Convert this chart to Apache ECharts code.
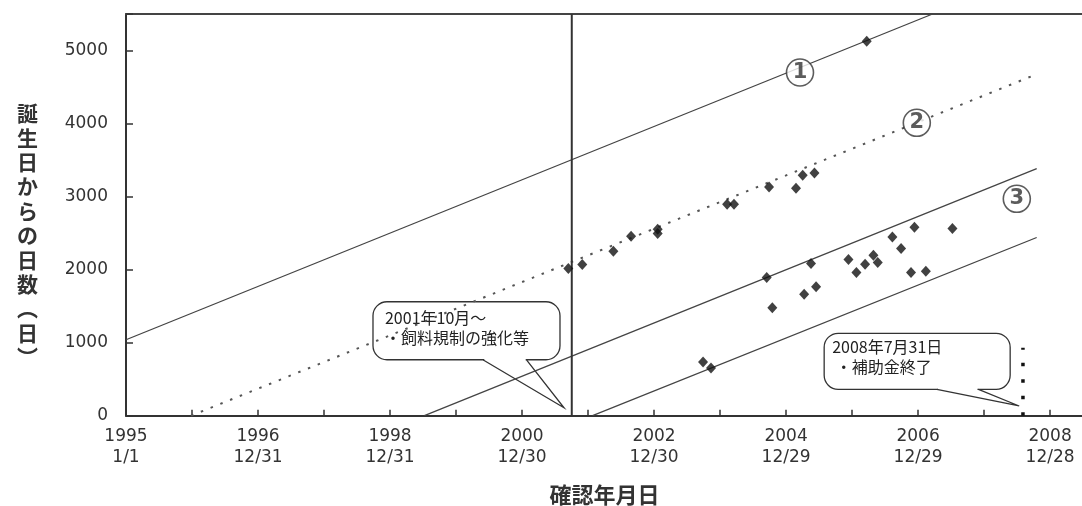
<!DOCTYPE html>
<html>
<head>
<meta charset="utf-8">
<script src="https://cdn.jsdelivr.net/npm/echarts@6/dist/echarts.min.js"></script>
<style>
html,body{margin:0;padding:0;background:#fff;}
#chart{width:1082px;height:506px;}
</style>
</head>
<body>
<div id="chart"></div>
<script>
// x values: days elapsed since 1995/1/1 (confirmation date); y values: days since birth
const xTickLabels = ['1995\n1/1', '1996\n12/31', '1998\n12/31', '2000\n12/30', '2002\n12/30', '2004\n12/29', '2006\n12/29', '2008\n12/28'];
const yTickLabels = ['0', '1000', '2000', '3000', '4000', '5000'];
const yAxisTitle = '誕生日からの日数︵日︶';
const xAxisTitle = '確認年月日';

// confirmed cases [confirmation day, age in days]
const casePoints = [
  [2446, 2015], [2523, 2070], [2695, 2252], [2793, 2457], [2940, 2553], [2940, 2494],
  [3324, 2894], [3362, 2894], [3556, 3131], [3705, 3113], [3742, 3291], [3807, 3322],
  [4096, 5127],
  [3543, 1892], [3788, 2084], [3816, 1764], [3750, 1664], [3574, 1477],
  [3995, 2140], [4039, 1962], [4087, 2074], [4133, 2197], [4157, 2097], [4238, 2447],
  [4286, 2289], [4360, 2580], [4341, 1961], [4423, 1978], [4570, 2562],
  [3191, 734], [3235, 652]
];

// reference lines (equal birth-date lines)
const refLine1 = [[0, 1040], [4460, 5500]];
const refLine2 = [[360, 0], [5010, 4650]];
const refLine3 = [[1650, 0], [5036, 3382]];
const refLine4 = [[2580, 0], [5036, 2440]];

// event lines
const feedBanLine = [[2465, 0], [2465, 5500]];      // 2001/10/1
const subsidyEndLine = [[4960, 0], [4960, 930]];    // 2008/7/31

// circled line labels
const lineLabelNames = ['1', '2', '3'];
const lineLabelAnchors = [[3727, 4699], [4373, 4010], [4926, 2970]];

// callouts
const calloutTexts = ['2001年10月～\n・飼料規制の強化等', '2008年7月31日\n ・補助金終了'];
const calloutTips = [[2422, 109], [4939, 133]];

const NUM_FONT = "'DejaVu Sans', 'Noto Sans CJK JP', sans-serif";
const JP_FONT = "'Noto Sans CJK JP', sans-serif";

const chart = echarts.init(document.getElementById('chart'), null, {renderer: 'canvas'});

function lineSeries(data, style) {
  return {
    type: 'line', data: data, symbol: 'none', silent: true, animation: false,
    lineStyle: style, z: 2
  };
}

const option = {
  animation: false,
  backgroundColor: '#fff',
  grid: {left: 126, top: 14, width: 957, bottom: 90.3, containLabel: false, outerBoundsMode: 'none'},
  xAxis: [{
    type: 'value', min: 0, max: 5292, interval: 365,
    name: xAxisTitle, nameLocation: 'middle', nameGap: 68,
    nameTextStyle: {fontSize: 22, fontWeight: 'bold', color: '#333', fontFamily: JP_FONT},
    axisLine: {show: true, lineStyle: {color: '#333', width: 2}},
    axisTick: {show: true, inside: true, length: 6, lineStyle: {color: '#333', width: 1.5}},
    splitLine: {show: false},
    axisLabel: {
      margin: 10, fontSize: 17, lineHeight: 21, color: '#333', fontFamily: NUM_FONT,
      showMaxLabel: false,
      formatter: function (v) {
        if (v % 730 === 0 && v / 730 < xTickLabels.length) return xTickLabels[v / 730];
        return '';
      }
    }
  }, {
    type: 'value', min: 0, max: 5292, position: 'top',
    axisLine: {show: true, lineStyle: {color: '#444', width: 2}},
    axisTick: {show: false}, axisLabel: {show: false}, splitLine: {show: false}
  }],
  yAxis: {
    type: 'value', min: 0, max: 5500, interval: 1000,
    axisLine: {show: true, lineStyle: {color: '#333', width: 2}},
    axisTick: {show: true, inside: true, length: 7, lineStyle: {color: '#333', width: 1.5}},
    splitLine: {show: false},
    axisLabel: {
      margin: 18, fontSize: 17, color: '#333', fontFamily: NUM_FONT,
      formatter: function (v) {
        if (v % 1000 === 0 && v / 1000 < yTickLabels.length) return yTickLabels[v / 1000];
        return '';
      }
    }
  },
  series: [
    lineSeries(refLine1, {color: '#444', width: 1.3}),
    lineSeries(refLine2, {color: '#555', width: 2, type: [2.5, 8]}),
    lineSeries(refLine3, {color: '#444', width: 1.3}),
    lineSeries(refLine4, {color: '#444', width: 1.3}),
    lineSeries(feedBanLine, {color: '#333', width: 2}),
    lineSeries(subsidyEndLine, {color: '#111', width: 3.5, type: [3.5, 13]}),
    {
      type: 'scatter', data: casePoints, symbol: 'diamond', symbolSize: [10, 11],
      itemStyle: {color: '#111'}, z: 4, silent: true
    },
    {
      type: 'scatter', z: 5, silent: true,
      data: lineLabelAnchors.map(function (p, i) { return {value: p, name: lineLabelNames[i]}; }),
      symbol: 'circle', symbolSize: 27,
      itemStyle: {color: '#fff', borderColor: '#333', borderWidth: 1.6},
      label: {
        show: true, position: 'inside', formatter: '{b}', fontSize: 21, fontWeight: 'bold',
        color: '#333', fontFamily: NUM_FONT
      }
    }
  ]
};

chart.setOption(option);

// speech-bubble callouts anchored at data points
const calloutShapes = [
  {box: [-191, -106, 187, 58], base: [[-80.7, -47.7], [-37.3, -47.7]], text: [-179, -100]},
  {box: [-195, -72.7, 186, 56], base: [[-82.3, -16.7], [-40.7, -16.7]], text: [-187, -68.6]}
];
const graphics = [];
calloutTips.forEach(function (tip, i) {
  const p = chart.convertToPixel({seriesIndex: 0}, tip);
  const s = calloutShapes[i];
  graphics.push({
    type: 'group', x: p[0], y: p[1], z: 10,
    children: [
      {type: 'rect', shape: {x: s.box[0], y: s.box[1], width: s.box[2], height: s.box[3], r: 14},
        style: {fill: '#fff', stroke: '#333', lineWidth: 1.3}},
      {type: 'line', shape: {x1: s.base[0][0] + 1, y1: s.base[0][1], x2: s.base[1][0] - 1, y2: s.base[1][1]},
        style: {stroke: '#fff', lineWidth: 3}},
      {type: 'polyline', shape: {points: [s.base[0], [0, 0], s.base[1]]},
        style: {stroke: '#333', lineWidth: 1.3, fill: null}},
      {type: 'text', x: s.text[0], y: s.text[1],
        style: {text: calloutTexts[i], fill: '#222', fontSize: 16, lineHeight: 20,
          fontFamily: JP_FONT, verticalAlign: 'top', textVerticalAlign: 'top'}}
    ]
  });
});

// vertical y-axis title (stacked characters), placed relative to the plot's top-left corner
const corner = chart.convertToPixel({seriesIndex: 0}, [0, 5500]);
graphics.push({
  type: 'text', x: corner[0] - 88, y: corner[1] + 87, z: 10,
  style: {
    text: yAxisTitle.split('').join('\n'), fill: '#333', fontSize: 21, lineHeight: 24.4,
    fontWeight: 'bold', fontFamily: JP_FONT, align: 'right', textAlign: 'right',
    verticalAlign: 'top', textVerticalAlign: 'top'
  }
});
chart.setOption({graphic: graphics});
</script>
</body>
</html>
